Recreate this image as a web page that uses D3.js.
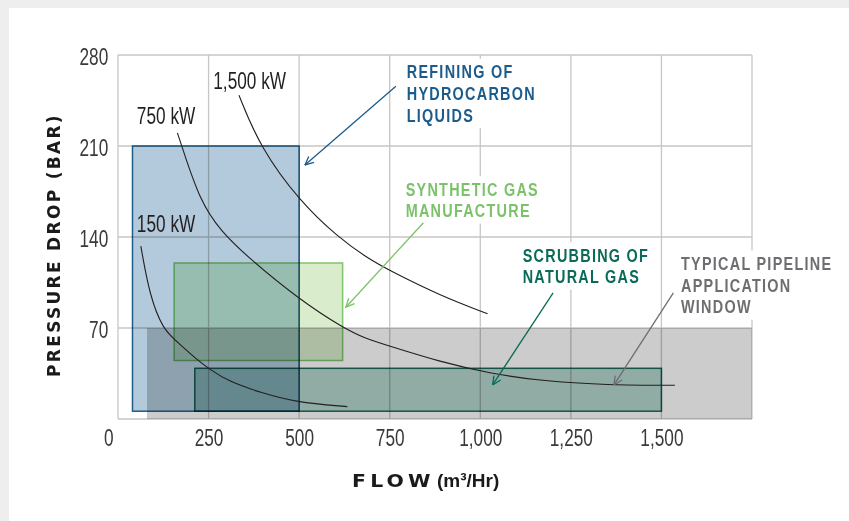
<!DOCTYPE html>
<html>
<head>
<meta charset="utf-8">
<script src="https://cdn.jsdelivr.net/npm/d3@7"></script>
<style>
  body { margin: 0; background: #eeeeee; }
  svg { display: block; }
</style>
</head>
<body>
<script>
// axis ticks
const flowTicks = [0, 250, 500, 750, 1000, 1250, 1500];
const flowMax = 1750;
const pressureTicks = [70, 140, 210, 280];
const pressureMax = 280;

// application windows: flow (m3/hr) and pressure drop (bar)
const windowNames = ["pipeline", "refining", "synthetic", "scrubbing"];
const flowFrom = [80, 40, 155, 212];
const flowTo = [1750, 500, 620, 1500];
const pressureFrom = [0, 6, 45, 6];
const pressureTo = [70, 210, 120, 39];

// power curves [flow, pressure]
const curveLabels = ["150 kW", "750 kW", "1,500 kW"];
const kw150 = [[63, 133], [88, 94], [125, 69], [157, 61], [212, 47], [254, 38], [305, 29], [397, 20], [489, 13], [633, 9.5]];
const kw750 = [[164, 220], [176, 210], [226, 168], [282, 145], [360, 124], [500, 92], [622, 70], [682, 62], [751, 56], [889, 44], [1027, 35], [1165, 29.5], [1303, 27], [1395, 26], [1537, 26]];
const kw1500 = [[334, 249], [392, 209], [503, 167], [607, 140], [687, 124], [751, 114], [889, 95], [1020, 81]];
const curveLabelAt = [[52, 144], [52, 227], [263, 253.6]];

// callouts: text lines, label anchor and arrow [from, to] in data units
const calloutText = [
  ["REFINING OF", "HYDROCARBON", "LIQUIDS"],
  ["SYNTHETIC GAS", "MANUFACTURE"],
  ["SCRUBBING OF", "NATURAL GAS"],
  ["TYPICAL PIPELINE", "APPLICATION", "WINDOW"]
];
const calloutAt = [[797, 262], [794, 171.8], [1117, 121], [1554, 114.6]];
const calloutArrow = [
  [[767, 256], [516, 195.4]],
  [[843, 151], [629, 86]],
  [[1201, 97], [1034, 26.2]],
  [[1533, 97], [1369, 26.2]]
];

const W = 849, H = 521;
const margin = {top: 55, right: 97, bottom: 102, left: 118};
const narrow = 0.75;   // horizontal squeeze to fake a condensed face

const fillColor = {pipeline: "#cccccc", refining: "#b2cadb", synthetic: "#d9edcd", scrubbing: "#b5d6cf"};
const strokeColor = {pipeline: "none", refining: "#1d5e8c", synthetic: "#7dc56b", scrubbing: "#1b6859"};
const calloutColor = ["#1b5c8c", "#7cc26a", "#0b6b58", "#6d6e71"];

const svg = d3.select("body").append("svg")
  .attr("width", W)
  .attr("height", H);

// page panel
svg.append("rect").attr("width", W).attr("height", H).attr("fill", "#eeeeee");
svg.append("rect").attr("x", 9).attr("y", 8).attr("width", W - 9).attr("height", H - 8).attr("fill", "#ffffff");

const x = d3.scaleLinear().domain([0, flowMax]).range([margin.left, W - margin.right]);
const y = d3.scaleLinear().domain([0, pressureMax]).range([H - margin.bottom, margin.top]);

// grid
const grid = svg.append("g").attr("stroke", "#c9c5c2").attr("stroke-width", 1.3);
grid.selectAll("line.v")
  .data(flowTicks.concat(flowMax))
  .enter().append("line")
  .attr("class", "v")
  .attr("x1", d => x(d)).attr("x2", d => x(d))
  .attr("y1", y(0)).attr("y2", y(pressureMax));
grid.selectAll("line.h")
  .data([0].concat(pressureTicks))
  .enter().append("line")
  .attr("class", "h")
  .attr("x1", x(0)).attr("x2", x(flowMax))
  .attr("y1", d => y(d)).attr("y2", d => y(d));

// callout labels (white backing hides the grid)
const callouts = svg.append("g");
calloutText.forEach((lines, i) => {
  const g = callouts.append("g")
    .attr("transform", "translate(" + x(calloutAt[i][0]) + "," + y(calloutAt[i][1]) + ") scale(0.8,1)");
  const t = g.append("text")
    .attr("fill", calloutColor[i])
    .style("font-family", "'Liberation Sans', Arial, sans-serif")
    .style("font-weight", "bold")
    .style("font-size", "18px")
    .style("letter-spacing", "1.6px");
  t.selectAll("tspan")
    .data(lines)
    .enter().append("tspan")
    .attr("x", 0)
    .attr("dy", (d, j) => j === 0 ? 0 : 21.7)
    .text(d => d);
  const b = t.node().getBBox();
  g.insert("rect", "text")
    .attr("x", b.x - 6).attr("y", b.y - 3)
    .attr("width", b.width + 10).attr("height", b.height + 6)
    .attr("fill", "#ffffff");
});

// application windows
svg.append("g").selectAll("rect")
  .data(windowNames)
  .enter().append("rect")
  .attr("x", (d, i) => x(flowFrom[i]))
  .attr("y", (d, i) => y(pressureTo[i]))
  .attr("width", (d, i) => x(flowTo[i]) - x(flowFrom[i]))
  .attr("height", (d, i) => y(pressureFrom[i]) - y(pressureTo[i]))
  .attr("fill", d => fillColor[d])
  .attr("stroke", d => strokeColor[d])
  .attr("stroke-width", 1.5)
  .style("mix-blend-mode", "multiply");

// power curves
const line = d3.line()
  .x(d => x(d[0]))
  .y(d => y(d[1]))
  .curve(d3.curveBasis);

svg.append("g").selectAll("path")
  .data([kw150, kw750, kw1500])
  .enter().append("path")
  .attr("d", line)
  .attr("fill", "none")
  .attr("stroke", "#231f20")
  .attr("stroke-width", 1.1);

svg.append("g").selectAll("text")
  .data(curveLabels)
  .enter().append("text")
  .attr("transform", (d, i) => "translate(" + x(curveLabelAt[i][0]) + "," + y(curveLabelAt[i][1]) + ") scale(" + narrow + ",1)")
  .attr("fill", "#231f20")
  .style("font-family", "'Liberation Sans', Arial, sans-serif")
  .style("font-size", "23px")
  .text(d => d);

// arrow heads, one per colour
const defs = svg.append("defs");
calloutColor.forEach((c, i) => {
  defs.append("marker")
    .attr("id", "arrow" + i)
    .attr("viewBox", "0 0 10 10")
    .attr("refX", 9.5).attr("refY", 5)
    .attr("markerWidth", 10).attr("markerHeight", 10)
    .attr("markerUnits", "userSpaceOnUse")
    .attr("orient", "auto")
    .append("path")
    .attr("d", "M1,1 L9.5,5 L1,9")
    .attr("fill", "none")
    .attr("stroke", c)
    .attr("stroke-width", 1.3);
});

svg.append("g").selectAll("line")
  .data(calloutArrow)
  .enter().append("line")
  .attr("x1", d => x(d[0][0])).attr("y1", d => y(d[0][1]))
  .attr("x2", d => x(d[1][0])).attr("y2", d => y(d[1][1]))
  .attr("stroke", (d, i) => calloutColor[i])
  .attr("stroke-width", 1.3)
  .attr("marker-end", (d, i) => "url(#arrow" + i + ")");

// axes
const xAxis = svg.append("g")
  .attr("transform", "translate(0," + y(0) + ")")
  .call(d3.axisBottom(x).tickValues(flowTicks).tickSize(0).tickPadding(11).tickFormat(d3.format(",")));
xAxis.select(".domain").remove();
xAxis.selectAll("text").filter(d => d === 0).attr("dx", -13);

const yAxis = svg.append("g")
  .attr("transform", "translate(" + x(0) + ",0)")
  .call(d3.axisLeft(y).tickValues(pressureTicks).tickSize(0).tickPadding(13));
yAxis.select(".domain").remove();
yAxis.selectAll("text").attr("dy", "0.4em");

svg.selectAll(".tick text")
  .attr("transform", "scale(" + narrow + ",1)")
  .attr("fill", "#3a3a3a")
  .style("font-family", "'Liberation Sans', Arial, sans-serif")
  .style("font-size", "23px");

// axis titles
svg.append("text")
  .attr("transform", "translate(60," + 245 + ") rotate(-90)")
  .attr("text-anchor", "middle")
  .attr("fill", "#1a1a1a")
  .style("font-family", "'DejaVu Sans', sans-serif")
  .style("font-weight", "bold")
  .style("font-size", "17px")
  .style("letter-spacing", "2.3px")
  .text("PRESSURE DROP (BAR)");

svg.append("text")
  .attr("transform", "translate(352,487) scale(1.2,1)")
  .attr("fill", "#1a1a1a")
  .style("font-family", "'DejaVu Sans', sans-serif")
  .style("font-weight", "bold")
  .style("font-size", "17px")
  .style("letter-spacing", "3.5px")
  .text("FLOW");
svg.append("text")
  .attr("x", 437)
  .attr("y", 487)
  .attr("fill", "#1a1a1a")
  .style("font-family", "'Liberation Sans', Arial, sans-serif")
  .style("font-weight", "bold")
  .style("font-size", "19px")
  .text("(m³/Hr)");
</script>
</body>
</html>
